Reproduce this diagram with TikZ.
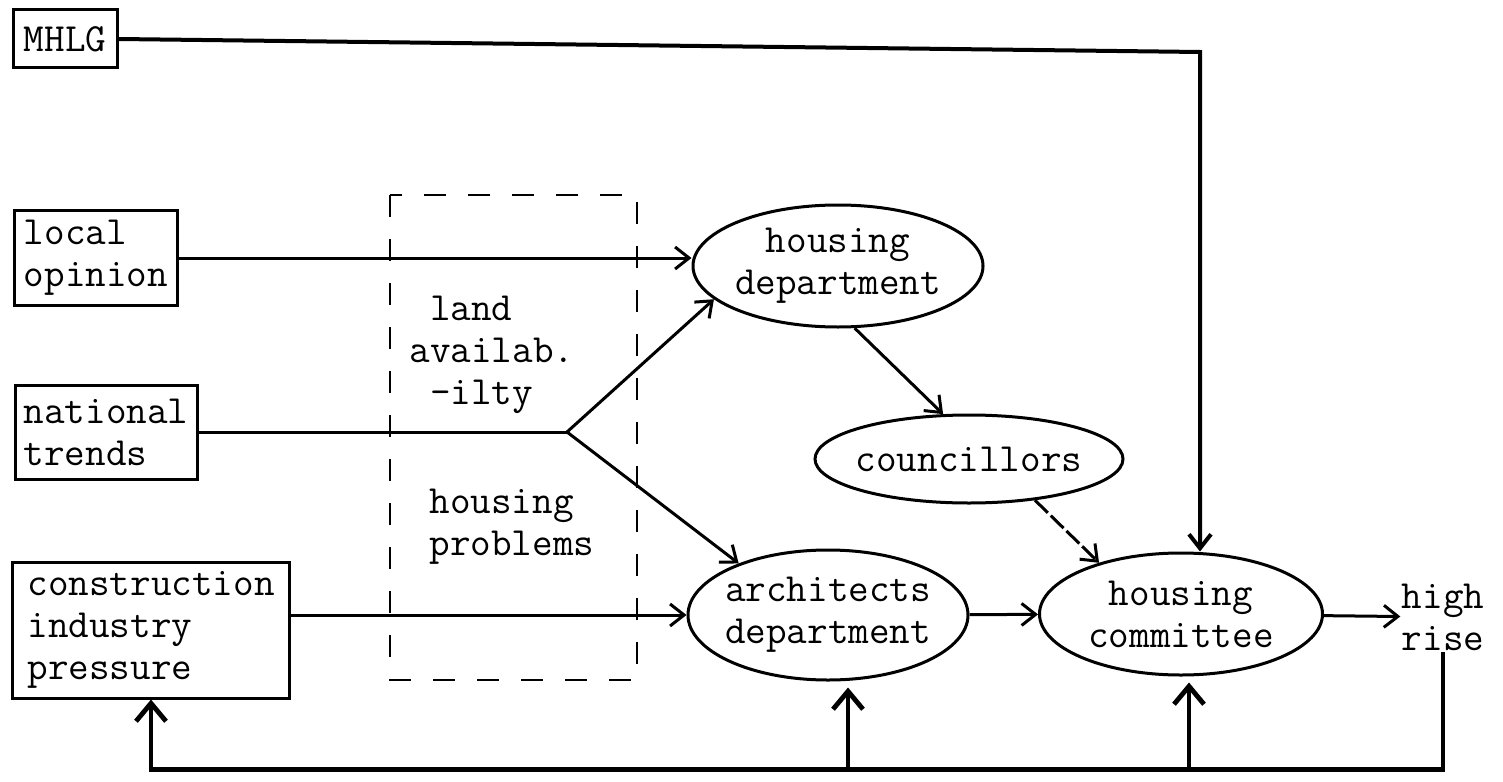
\documentclass[tikz,border=0pt]{standalone}
\usepackage{fontspec}
\usetikzlibrary{arrows.meta,shapes.geometric}

\begin{document}
\begin{tikzpicture}[x=0.5pt,y=-0.5pt,->,>={Straight Barb[length=7pt,width=11pt]},
    line width=1.5pt,font=\ttfamily\fontsize{20}{21}\selectfont,
    factor/.style={draw,rectangle,align=left,inner sep=0pt},
    dept/.style={draw,ellipse,align=center,inner xsep=-4pt,inner ysep=0pt},
    feedback/.style={line width=2.4pt,>={Straight Barb[length=9pt,width=15pt]}}]
    \useasboundingbox (0,0) rectangle (1503,781);

    % outside influences
    \node[factor,minimum width=52pt,minimum height=29pt] (mhlg) at (65,39) {MHLG};
    \node[factor,minimum width=81.5pt,minimum height=47.5pt] (local) at (96,258) {local\\opinion};
    \node[factor,minimum width=91pt,minimum height=47pt] (national) at (106,432) {national\\trends};
    \node[factor,minimum width=138.5pt,minimum height=68pt] (construct) at (151,630) {construction\\industry\\pressure};

    % constraints
    \draw[-,line width=1pt,dash pattern=on 11pt off 11pt] (390,195) rectangle (637,680);
    \node[align=left,anchor=west,inner sep=0pt] (land) at (408,355) {\hphantom{a}land\\availab.\\\hphantom{a}-ilty};
    \node[align=left,anchor=west,inner sep=0pt] (problems) at (428,527) {housing\\problems};

    % the council
    \node[dept,minimum width=145pt,minimum height=61pt] (hdep) at (838,266) {housing\\department};
    \node[dept,minimum width=154pt,minimum height=44pt] (coun) at (969,459) {councillors};
    \node[dept,minimum width=140pt,minimum height=65pt] (arch) at (828,615) {architects\\department};
    \node[dept,minimum width=141.5pt,minimum height=61pt] (hcom) at (1181,614) {housing\\committee};
    \node[align=left,inner sep=0pt] (rise) at (1443,617) {high\\rise};

    \coordinate (fork) at (567,432);
    \coordinate (mhlgturn) at (1200,52);
    \coordinate (fbL) at ([yshift=-35pt]construct.south);

    \draw[line width=2pt] (mhlg.east) -- (mhlgturn) -- (mhlgturn |- hcom.north);
    \draw (local.east) -- (local.east -| hdep.west);
    \draw[-] (national.east) -- (fork);
    \path (fork) edge (hdep.195)
          (fork) edge (arch.150)
          (arch.west -| construct.east) edge (arch.west)
          (hdep.-75) edge (coun.120)
          (arch) edge (hcom)
          (hcom) edge (rise);
    \draw[dash pattern=on 9pt off 2pt] (coun.-32) -- (hcom.148);

    % feedback from the outcome
    \draw[feedback] (rise.south) |- (fbL) -- (construct.south);
    \draw[feedback,shorten >=3pt] ([xshift=10pt]arch.south |- fbL) -- ([xshift=10pt]arch.south);
    \draw[feedback,shorten >=3pt] ([xshift=4pt]hcom.south |- fbL) -- ([xshift=4pt]hcom.south);
\end{tikzpicture}
\end{document}
